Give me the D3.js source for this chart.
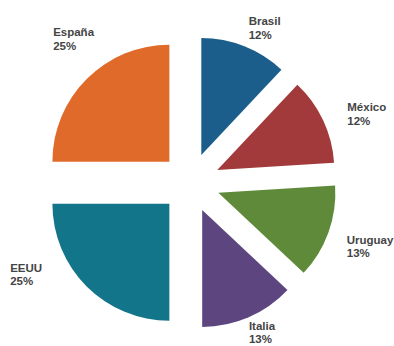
<!DOCTYPE html>
<html>
<head>
<meta charset="utf-8">
<script src="https://cdn.jsdelivr.net/npm/d3@7"></script>
<style>
  html, body { margin: 0; padding: 0; background: #fff; }
  #chart { width: 394px; height: 346px; overflow: hidden; }
</style>
</head>
<body>
<div id="chart"></div>
<script>
// exploded pie - distribución por país

const PAISES  = ["Brasil", "México", "Uruguay", "Italia", "EEUU", "España"];
const VALORES = [12, 12, 13, 13, 25, 25];
const ETIQUETAS = ["12%", "12%", "13%", "13%", "25%", "25%"];

const COLORS = ["#1c5e8b", "#a23a3b", "#5f8a39", "#5d467f", "#13758a", "#e06a2a"];

const W = 394, H = 346;
const cx = 190.4, cy = 182.7;
const radius  = 117;
const explode = 29.7;
const labelR  = 180;

// ajuste fino de cada etiqueta (respecto al punto sobre labelR)
const nudge = [[-8, 10], [-6, 5], [-13, 0], [-13, -18], [-53, -38], [-10, -19]];

const svg = d3.select("#chart")
  .append("svg")
  .attr("width", W)
  .attr("height", H)
  .append("g")
  .attr("transform", `translate(${cx},${cy})`);

const pie = d3.pie().sort(null).value(d => d);
const arcs = pie(VALORES);

const arc = d3.arc().innerRadius(0).outerRadius(radius);

const mid = d => (d.startAngle + d.endAngle) / 2;

// porciones separadas del centro
svg.selectAll(".slice")
  .data(arcs)
  .enter()
  .append("path")
  .attr("class", "slice")
  .attr("transform", d => `translate(${Math.sin(mid(d)) * explode},${-Math.cos(mid(d)) * explode})`)
  .attr("d", arc)
  .attr("fill", (d, i) => COLORS[i]);

// etiquetas
const labels = svg.selectAll(".lbl")
  .data(arcs)
  .enter()
  .append("text")
  .attr("class", "lbl")
  .attr("x", (d, i) => Math.sin(mid(d)) * labelR + nudge[i][0])
  .attr("y", (d, i) => -Math.cos(mid(d)) * labelR + nudge[i][1])
  .attr("font-family", "'Liberation Sans', Arial, sans-serif")
  .attr("font-size", "11.5px")
  .attr("font-weight", "bold")
  .attr("fill", "#444");

labels.append("tspan")
  .text((d, i) => PAISES[i]);

labels.append("tspan")
  .attr("x", (d, i) => Math.sin(mid(d)) * labelR + nudge[i][0])
  .attr("dy", 13.5)
  .text((d, i) => ETIQUETAS[i]);
</script>
</body>
</html>
